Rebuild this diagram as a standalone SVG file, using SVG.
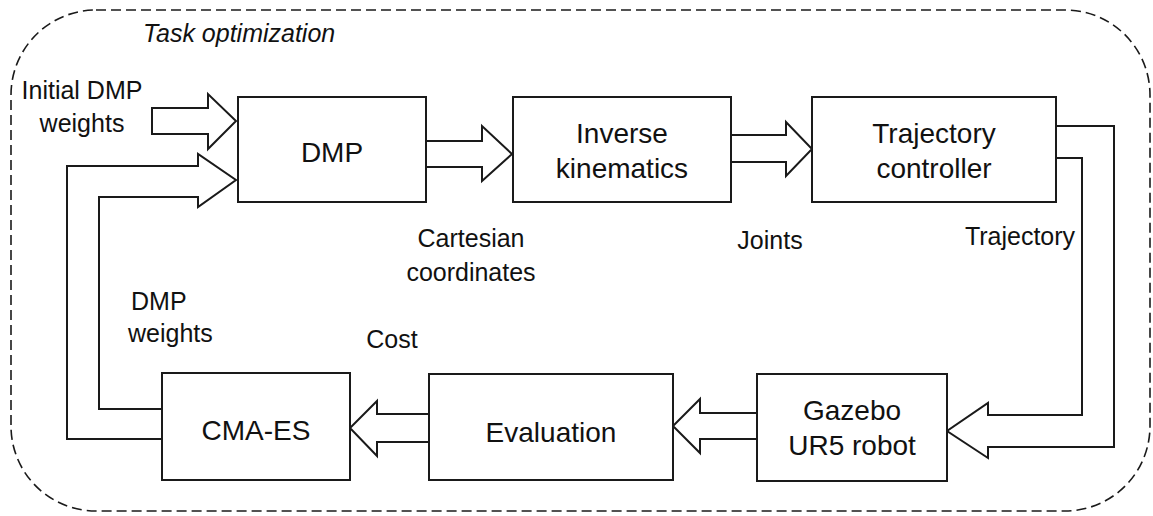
<svg xmlns="http://www.w3.org/2000/svg" width="1153" height="516" viewBox="0 0 1153 516">
  <style>
    .box { fill: #ffffff; stroke: #1a1a1a; stroke-width: 2; }
    .arrow { fill: #ffffff; stroke: #1a1a1a; stroke-width: 2; stroke-linejoin: miter; }
    .frame { fill: none; stroke: #1a1a1a; stroke-width: 1.6; stroke-dasharray: 10 5; }
    .big { font-family: "Liberation Sans", Arial, sans-serif; font-size: 28px; fill: #111111; text-anchor: middle; }
    .lbl { font-family: "Liberation Sans", Arial, sans-serif; font-size: 25px; fill: #111111; text-anchor: middle; }
    .lbl-start { font-family: "Liberation Sans", Arial, sans-serif; font-size: 25px; fill: #111111; text-anchor: start; }
    .title { font-family: "Liberation Sans", Arial, sans-serif; font-size: 25px; font-style: italic; fill: #111111; }
  </style>
  <rect width="1153" height="516" fill="#ffffff"/>
  <g id="frame">
    <rect class="frame" x="11" y="10" width="1139" height="501" rx="85" ry="85"/>
    <text class="title" x="143" y="42">Task optimization</text>
  </g>
  <g id="connectors">
    <polygon class="arrow" points="152,108 208,108 208,94 236,121 208,149 208,134 152,134"/>
    <polygon class="arrow" points="426,141 482,141 482,126 512,154 482,181 482,167 426,167"/>
    <polygon class="arrow" points="731,135 786,135 786,122 812,149 786,176 786,162 731,162"/>
    <polygon class="arrow" points="162,439 67,439 67,166 198,166 198,154 236,180 198,207 198,197 99,197 99,409 162,409"/>
    <polygon class="arrow" points="1056,126 1114,126 1114,447 988,447 988,458 947,431 988,403 988,415 1082,415 1082,158 1056,158"/>
    <polygon class="arrow" points="757,413 700,413 700,399 673,426 700,453 700,439 757,439"/>
    <polygon class="arrow" points="429,414 377,414 377,401 350,428 377,456 377,442 429,442"/>
    <text class="lbl" x="82" y="99">Initial DMP</text>
    <text class="lbl" x="82" y="132">weights</text>
    <text class="lbl" x="471" y="247">Cartesian</text>
    <text class="lbl" x="471" y="281">coordinates</text>
    <text class="lbl" x="770" y="249">Joints</text>
    <text class="lbl" x="1020" y="245">Trajectory</text>
    <text class="lbl-start" x="131" y="310">DMP</text>
    <text class="lbl-start" x="128" y="342">weights</text>
    <text class="lbl" x="392" y="348">Cost</text>
  </g>
  <g id="node-dmp">
    <rect class="box" x="238" y="97" width="188" height="105"/>
    <text class="big" x="332" y="162">DMP</text>
  </g>
  <g id="node-ik">
    <rect class="box" x="513" y="97" width="218" height="105"/>
    <text class="big" x="622" y="143">Inverse</text>
    <text class="big" x="622" y="178">kinematics</text>
  </g>
  <g id="node-tc">
    <rect class="box" x="812" y="97" width="244" height="105"/>
    <text class="big" x="934" y="143">Trajectory</text>
    <text class="big" x="934" y="178">controller</text>
  </g>
  <g id="node-cmaes">
    <rect class="box" x="162" y="373" width="188" height="107"/>
    <text class="big" x="256" y="440">CMA-ES</text>
  </g>
  <g id="node-eval">
    <rect class="box" x="429" y="374" width="244" height="106"/>
    <text class="big" x="551" y="442">Evaluation</text>
  </g>
  <g id="node-gazebo">
    <rect class="box" x="757" y="374" width="190" height="107"/>
    <text class="big" x="852" y="420">Gazebo</text>
    <text class="big" x="852" y="455">UR5 robot</text>
  </g>
</svg>
